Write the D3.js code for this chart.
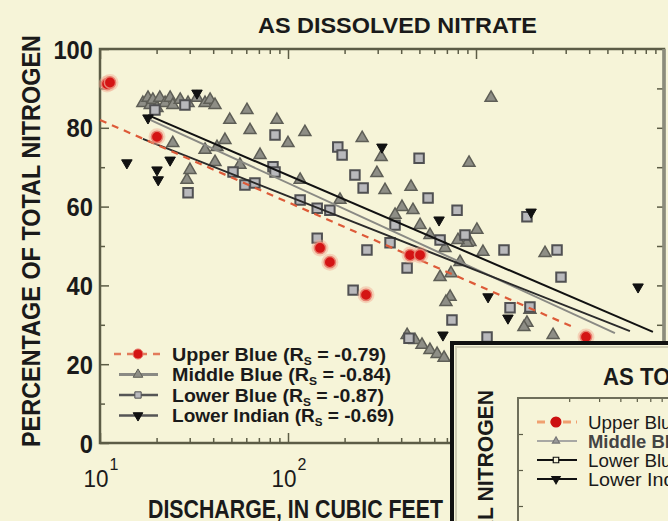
<!DOCTYPE html>
<html>
<head>
<meta charset="utf-8">
<script src="https://cdn.jsdelivr.net/npm/d3@7"></script>
<style>
body { margin: 0; background: #f6f4d8; }
svg { display: block; font-family: "Liberation Sans", Arial, sans-serif; }
</style>
</head>
<body>
<svg></svg>
<script>
// points are [discharge in cfs, percent of total nitrogen as nitrate]
const upperBlue = [[10.9, 91.1], [11.3, 91.5], [20.1, 77.7], [148, 49.5], [167, 45.9],
  [260, 37.6], [446, 47.7], [504, 47.7], [3846, 26.9]];

const middleBlue = [[16.9, 86.3], [18.0, 87.6], [18.5, 85.8], [19.1, 87.1], [20.1, 85.0],
  [20.8, 87.6], [22.2, 86.3], [23.6, 87.6], [24.4, 85.8], [26.7, 87.1], [29.4, 86.3],
  [32.8, 87.6], [36.2, 86.3], [38.5, 87.1], [40.9, 85.8], [24.4, 76.1], [49, 82.0],
  [60.5, 84.5], [87.3, 82.0], [100, 76.1], [123, 78.9], [41.9, 75.1], [62.8, 79.4],
  [71.0, 73.1], [29.0, 66.8], [36.2, 74.4], [46.2, 76.9], [55.5, 70.6], [30.1, 69.3],
  [40.9, 71.3], [248, 77.4], [313, 72.6], [297, 68.5], [328, 64.2], [451, 65.0],
  [404, 59.9], [462, 59.1], [918, 71.1], [1202, 87.6], [1011, 54.1], [929, 51.0],
  [1089, 48.5], [895, 50.8], [644, 42.1], [728, 37.1], [692, 35.8], [736, 43.1],
  [1866, 30.5], [1936, 33.8], [2328, 48.2], [1799, 29.4], [430, 27.4], [474, 26.1],
  [516, 24.9], [569, 23.6], [621, 22.6], [676, 21.6], [2570, 27.4], [569, 52.8],
  [684, 49.5], [802, 51.5], [504, 55.3], [371, 57.9], [189, 61.7], [116, 66.8],
  [822, 45.9]];

const lowerBlue = [[29.4, 63.5], [19.6, 84.5], [28.3, 85.8], [51.0, 68.8], [66.7, 66.0],
  [85.3, 78.2], [83.2, 70.1], [143, 59.6], [143, 52.0], [184, 75.1], [194, 73.1],
  [227, 68.0], [251, 64.7], [263, 49.0], [349, 50.8], [222, 38.8], [430, 44.4],
  [498, 72.3], [556, 62.2], [793, 59.1], [1866, 57.4], [1409, 49.0], [2698, 49.0],
  [2832, 42.1], [745, 31.2], [1936, 34.5], [1517, 34.3], [1145, 26.9], [440, 26.6],
  [85.3, 68.8], [59.0, 65.5], [644, 51.5], [874, 52.8], [371, 55.3], [167, 59.1],
  [116, 61.7]];

const lowerIndian = [[13.9, 71.1], [20.1, 69.3], [20.4, 66.8], [23.6, 71.8], [32.8, 88.8],
  [18.0, 82.5], [316, 75.1], [636, 56.6], [1963, 58.6], [7278, 39.6], [1479, 31.7],
  [1159, 37.1], [667, 27.4]];

// fitted lines, two end points each
const fitUpperBlue = [[10, 82.0], [3365, 29.2]];
const fitMiddleBlue = [[18.5, 82.0], [5483, 27.9]];
const fitLowerBlue = [[16.9, 77.2], [6590, 28.4]];
const fitLowerIndian = [[18.0, 83.2], [8730, 28.2]];

const seriesNames = ["Upper Blue", "Middle Blue", "Lower Blue", "Lower Indian"];
const rsValues = ["-0.79", "-0.84", "-0.87", "-0.69"];
const yTicks = [0, 20, 40, 60, 80, 100];
const xTicks = [10, 100, 1000];
const xTickLabels = [10, 100];

const W = 668, H = 521;
const bg = "#f6f4d8";
const frame = "#5c5c46";

const svg = d3.select("svg").attr("width", W).attr("height", H);
svg.append("rect").attr("width", W).attr("height", H).attr("fill", bg);

const x = d3.scaleLog().domain([10, 10000]).range([100, 664]);
const y = d3.scaleLinear().domain([0, 100]).range([443, 49]);

const minorX = [];
for (let d = 10; d < 10000; d *= 10)
  for (let k = 2; k <= 9; k++) minorX.push(d * k);

// axes, ticks drawn inward
const g = svg.append("g");

g.append("g").attr("transform", "translate(0,49)")
  .call(d3.axisTop(x).tickValues(minorX).tickSize(-5).tickFormat(""));
g.append("g").attr("transform", "translate(0,49)")
  .call(d3.axisTop(x).tickValues(xTicks).tickSize(-10).tickFormat(""));
g.append("g").attr("transform", "translate(0,443)")
  .call(d3.axisBottom(x).tickValues(minorX).tickSize(-5).tickFormat(""));
g.append("g").attr("transform", "translate(0,443)")
  .call(d3.axisBottom(x).tickValues(xTicks).tickSize(-10).tickFormat(""));
const xAxis = g.append("g").attr("transform", "translate(0,443)")
  .call(d3.axisBottom(x).tickValues(xTickLabels).tickSize(0).tickFormat(""));

g.append("g").attr("transform", "translate(100,0)")
  .call(d3.axisLeft(y).tickValues(d3.range(10, 100, 20)).tickSize(-5).tickFormat(""));
const yAxis = g.append("g").attr("transform", "translate(100,0)")
  .call(d3.axisLeft(y).tickValues(yTicks).tickSize(-9).tickPadding(7));
g.append("g").attr("transform", "translate(664,0)")
  .call(d3.axisRight(y).tickValues(d3.range(10, 100, 10)).tickSize(-7).tickFormat(""));

g.selectAll(".domain").remove();
g.selectAll(".tick line").attr("stroke", frame).attr("stroke-width", 1.5);

yAxis.selectAll(".tick text")
  .attr("font-size", 25).attr("font-weight", "bold").attr("fill", "#1a1a1a").attr("dy", "0.36em")
  .attr("textLength", d => String(d).length * 13.2)
  .attr("lengthAdjust", "spacingAndGlyphs");

// decade labels: "10" with the exponent as its own raised text
xAxis.selectAll(".tick text").remove();
xAxis.selectAll(".tick").each(function(d) {
  const t = d3.select(this);
  t.append("text").attr("x", 8).attr("y", 44).attr("text-anchor", "end").text("10")
    .attr("font-size", 24).attr("fill", "#1a1a1a")
    .attr("textLength", 25).attr("lengthAdjust", "spacingAndGlyphs");
  t.append("text").attr("x", 9).attr("y", 27).attr("text-anchor", "start")
    .text(Math.round(Math.log10(d)))
    .attr("font-size", 16).attr("fill", "#1a1a1a");
});

svg.append("rect").attr("x", 100).attr("y", 49).attr("width", 564).attr("height", 394)
  .attr("fill", "none").attr("stroke", frame).attr("stroke-width", 2.5);
svg.append("line").attr("x1", 664).attr("x2", 664).attr("y1", 49).attr("y2", 443)
  .attr("stroke", "#8c8c7c").attr("stroke-width", 3.5);

// labels
svg.append("text").attr("x", 258).attr("y", 33).text("AS DISSOLVED NITRATE")
  .attr("font-size", 22).attr("font-weight", "bold").attr("fill", "#1a1a1a")
  .attr("textLength", 279).attr("lengthAdjust", "spacingAndGlyphs");

svg.append("text").attr("transform", "translate(40,241) rotate(-90)")
  .attr("text-anchor", "middle").text("PERCENTAGE OF TOTAL NITROGEN")
  .attr("font-size", 26).attr("font-weight", "bold").attr("fill", "#1a1a1a")
  .attr("textLength", 412).attr("lengthAdjust", "spacingAndGlyphs");

svg.append("text").attr("x", 148).attr("y", 518).text("DISCHARGE, IN CUBIC FEET")
  .attr("font-size", 25).attr("font-weight", "bold").attr("fill", "#1a1a1a")
  .attr("textLength", 295).attr("lengthAdjust", "spacingAndGlyphs");

// marker styles per series
const markers = [
  {type: d3.symbolCircle, size: 100, fill: "#d41414", stroke: "#e88070", sw: 1.5, rot: 0},
  {type: d3.symbolTriangle, size: 62, fill: "#8e8e86", stroke: "#5e5e56", sw: 1.5, rot: 0},
  {type: d3.symbolSquare, size: 90, fill: "#b9b9bc", stroke: "#505052", sw: 2, rot: 0},
  {type: d3.symbolTriangle, size: 48, fill: "#111", stroke: "#111", sw: 1, rot: 180}
];
const lineStyles = [
  {stroke: "#dd5a38", width: 2.2, dash: "7,6"},
  {stroke: "#8a8a84", width: 2, dash: null},
  {stroke: "#2a2a2a", width: 2, dash: null},
  {stroke: "#111", width: 2, dash: null}
];

const plot = svg.append("g");

function drawPoints(data, m) {
  plot.append("g").selectAll("path").data(data).join("path")
    .attr("transform", d => `translate(${x(d[0])},${y(d[1])}) rotate(${m.rot})`)
    .attr("d", d3.symbol().type(m.type).size(m.size))
    .attr("fill", m.fill).attr("stroke", m.stroke).attr("stroke-width", m.sw);
}

const line = d3.line().x(d => x(d[0])).y(d => y(d[1]));
function drawFit(data, s) {
  plot.append("path").datum(data).attr("d", line)
    .attr("fill", "none").attr("stroke", s.stroke).attr("stroke-width", s.width)
    .attr("stroke-dasharray", s.dash);
}

drawPoints(middleBlue, markers[1]);
drawPoints(lowerBlue, markers[2]);
drawPoints(lowerIndian, markers[3]);
drawFit(fitMiddleBlue, lineStyles[1]);
drawFit(fitLowerBlue, lineStyles[2]);
drawFit(fitLowerIndian, lineStyles[3]);
drawFit(fitUpperBlue, lineStyles[0]);
plot.append("g").selectAll("circle").data(upperBlue).join("circle")
  .attr("cx", d => x(d[0])).attr("cy", d => y(d[1])).attr("r", 8.5)
  .attr("fill", "#f2a890").attr("opacity", 0.45);
drawPoints(upperBlue, markers[0]);

// legend
const legendW = [214, 219, 212, 222];
const leg = svg.append("g");
seriesNames.forEach((name, i) => {
  const ly = 354 + i * 20.5;
  const s = lineStyles[i], m = markers[i];
  leg.append("line").attr("x1", i === 0 ? 114 : 119).attr("x2", i === 0 ? 164 : 158)
    .attr("y1", ly).attr("y2", ly)
    .attr("stroke", i === 0 ? "#e27a5a" : (i === 1 ? "#8a8a84" : "#555"))
    .attr("stroke-width", i === 1 ? 3 : 2.5).attr("stroke-dasharray", s.dash);
  leg.append("path").attr("transform", `translate(138,${ly}) rotate(${m.rot})`)
    .attr("d", d3.symbol().type(m.type).size(i === 0 ? 80 : 40))
    .attr("fill", m.fill).attr("stroke", m.stroke).attr("stroke-width", 1);
  const t = leg.append("text").attr("x", 172).attr("y", ly + 6.5)
    .attr("font-size", 18).attr("font-weight", "bold").attr("fill", "#1a1a1a")
    .attr("textLength", legendW[i]).attr("lengthAdjust", "spacingAndGlyphs");
  t.append("tspan").text(name + (i < 2 ? "  (R" : " (R"));
  t.append("tspan").text("S").attr("font-size", 11).attr("dy", 4);
  t.append("tspan").text(" = " + rsValues[i] + ")").attr("dy", -4);
});

// inset second panel (partly outside the picture)
const ins = svg.append("g");
ins.append("rect").attr("x", 452).attr("y", 343).attr("width", 320).attr("height", 300)
  .attr("fill", bg).attr("stroke", "#111").attr("stroke-width", 4);
ins.append("rect").attr("x", 456).attr("y", 347).attr("width", 320).attr("height", 300)
  .attr("fill", "none").attr("stroke", "#cfcdb4").attr("stroke-width", 2);

const xi = d3.scaleLog().domain([10, 1000]).range([518, 858]);
const yi = d3.scaleLinear().domain([0, 100]).range([758, 398]);
const minorXi = [];
for (let k = 2; k <= 9; k++) minorXi.push(10 * k);
ins.append("g").attr("transform", "translate(0,398)")
  .call(d3.axisTop(xi).tickValues(minorXi).tickSize(-4).tickFormat(""));
ins.append("g").attr("transform", "translate(518,0)")
  .call(d3.axisLeft(yi).tickValues(d3.range(50, 100, 10)).tickSize(-5).tickFormat(""));
ins.selectAll(".domain").remove();
ins.selectAll(".tick line").attr("stroke", frame).attr("stroke-width", 1.2);
ins.append("path").attr("d", "M518,530V398H680")
  .attr("fill", "none").attr("stroke", "#6e6e5a").attr("stroke-width", 2);

ins.append("text").attr("x", 603).attr("y", 385).text("AS TOTAL NITROGEN")
  .attr("font-size", 23).attr("font-weight", "bold").attr("fill", "#1a1a1a")
  .attr("textLength", 232).attr("lengthAdjust", "spacingAndGlyphs");
ins.append("text").attr("transform", "translate(493,390) rotate(-90)")
  .attr("text-anchor", "end").text("PERCENTAGE OF TOTAL NITROGEN")
  .attr("font-size", 22).attr("font-weight", "bold").attr("fill", "#1a1a1a")
  .attr("textLength", 372).attr("lengthAdjust", "spacingAndGlyphs");

const insLine = ["#f0a070", "#a8a8a4", "#111", "#111"];
const insMark = [
  {type: d3.symbolCircle, size: 75, fill: "#cc1010", stroke: "#cc1010", rot: 0},
  {type: d3.symbolTriangle, size: 22, fill: "#999", stroke: "#777", rot: 0},
  {type: d3.symbolSquare, size: 30, fill: bg, stroke: "#111", rot: 0},
  {type: d3.symbolTriangle, size: 30, fill: "#111", stroke: "#111", rot: 180}
];
seriesNames.forEach((name, i) => {
  const ly = 422 + i * 19;
  ins.append("line").attr("x1", 537).attr("x2", 577).attr("y1", ly).attr("y2", ly)
    .attr("stroke", insLine[i]).attr("stroke-width", i === 0 ? 3 : 2)
    .attr("stroke-dasharray", i === 0 ? "8,5" : null);
  const m = insMark[i];
  ins.append("path").attr("transform", `translate(556,${ly}) rotate(${m.rot})`)
    .attr("d", d3.symbol().type(m.type).size(m.size))
    .attr("fill", m.fill).attr("stroke", m.stroke).attr("stroke-width", 1.2);
  ins.append("text").attr("x", 588).attr("y", ly + 7).text(name)
    .attr("font-size", 18).attr("font-weight", i === 1 ? "bold" : "normal")
    .attr("fill", i === 1 ? "#444" : "#1a1a1a")
    .attr("textLength", name.length * 9.4).attr("lengthAdjust", "spacingAndGlyphs");
});
</script>
</body>
</html>
